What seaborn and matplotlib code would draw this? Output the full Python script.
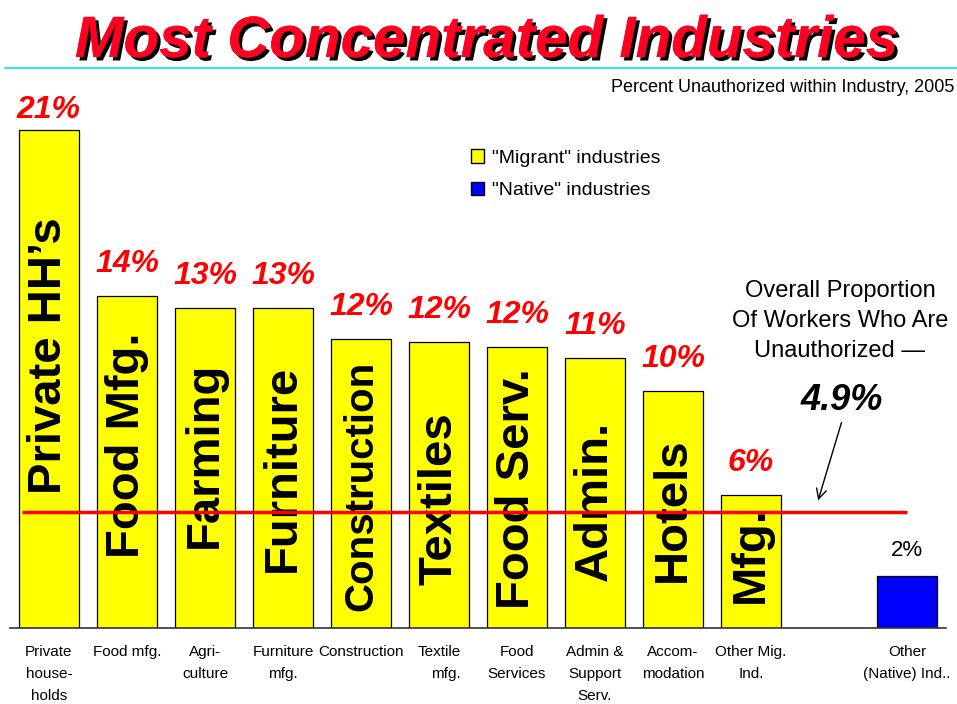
import numpy as np
import pandas as pd
import matplotlib
matplotlib.use("Agg")
import matplotlib.pyplot as plt
import matplotlib.patheffects as pe
from matplotlib.lines import Line2D
from matplotlib.patches import Patch
import seaborn as sns

# ── data ────────────────────────────────────────────────────────────────
keys = ["hh", "food", "agri", "furn", "constr", "textile",
        "foodserv", "admin", "accom", "othermig", "native"]
pct = [21.0, 14.0, 13.5, 13.5, 12.2, 12.05, 11.85, 11.4, 10.0, 5.6, 2.2]
pct_labels = ["21%", "14%", "13%", "13%", "12%", "12%", "12%", "11%", "10%", "6%", "2%"]
group = ["Migrant"] * 10 + ["Native"]
inner_labels = ["Private HH\u2019s", "Food Mfg.", "Farming", "Furniture", "Construction",
                "Textiles", "Food Serv.", "Admin.", "Hotels", "Mfg.", ""]
tick_labels = ["Private\nhouse-\nholds", "Food mfg.", "Agri-\nculture", "Furniture\nmfg.",
               "Construction", "Textile\nmfg.", "Food\nServices", "Admin &\nSupport\nServ.",
               "Accom-\nmodation", "Other Mig.\nInd.", "Other\n(Native) Ind.."]
overall = 4.9

# layout: where the rotated names sit inside the bars (data units)
inner_y = [11.5, 7.7, 7.3, 6.75, 6.0, 5.45, 5.9, 5.35, 5.0, 3.1, 0]

order = keys[:10] + ["gap"] + keys[10:]
df = pd.DataFrame({"key": keys, "pct": pct, "group": group})

sns.set_style("white")
plt.rcParams["font.family"] = ["Liberation Sans", "DejaVu Sans"]
plt.rcParams["text.color"] = "black"
plt.rcParams["xtick.color"] = "black"

fig = plt.figure(figsize=(9.57, 7.04), dpi=100)
ax = fig.add_axes([10 / 957, 76 / 704, 936 / 957, 22 * 23.7 / 704])

palette = {"Migrant": "#ffff00", "Native": "#0000ff"}
sns.barplot(data=df, x="key", y="pct", hue="group", order=order, palette=palette,
            dodge=False, width=0.77, edgecolor="black", linewidth=0.9, saturation=1,
            legend=False, ax=ax)

ax.set_xlim(-0.5, len(order) - 0.5)
ax.set_ylim(0, 22)
ax.set_xlabel("")
ax.set_ylabel("")
ax.set_yticks([])
for s in ["top", "right", "left"]:
    ax.spines[s].set_visible(False)
ax.spines["bottom"].set_color("#333333")
ax.spines["bottom"].set_linewidth(1.2)

ax.set_xticks(range(len(order)))
ax.set_xticklabels(tick_labels[:10] + [""] + tick_labels[10:], fontsize=11,
                   linespacing=1.72, color="black")
ax.tick_params(axis="x", length=0, pad=12)
ax.get_xticklabels()[5].set_multialignment("right")

px = 23.7  # pixels per percent unit

for i, k in enumerate(keys):
    xi = order.index(k)
    v = pct[i]
    if group[i] == "Migrant":
        ly = min(v + 32 / px, 21.86)
        ax.text(xi, ly, pct_labels[i], ha="center", va="center", color="red",
                fontsize=23, fontweight="bold", fontstyle="italic", clip_on=False)
        fs = 29 if k == "constr" else 34
        ax.text(xi, inner_y[i], inner_labels[i], rotation=90, ha="center", va="center",
                fontsize=fs, fontweight="bold", color="black")
    else:
        ax.text(xi, v + 25 / px, pct_labels[i], ha="center", va="center",
                fontsize=16, color="black")

# overall proportion line
ax.hlines(overall, -0.35, 11.0, color="red", lw=2.5, zorder=5)

ax.text(10.14, 12.95, "Overall Proportion\nOf Workers Who Are\nUnauthorized \u2014",
        ha="center", va="center", fontsize=17, linespacing=1.45, color="black")
ax.text(10.17, 9.62, "4.9%", ha="center", va="center", fontsize=26,
        fontweight="bold", fontstyle="italic", color="black")
ax.annotate("", xy=(9.85, 5.27), xytext=(10.17, 8.78),
            arrowprops=dict(arrowstyle="->", color="black", lw=1, mutation_scale=18))

# legend
handles = [Patch(facecolor="#ffff00", edgecolor="black", label='"Migrant" industries'),
           Patch(facecolor="#0000ff", edgecolor="black", label='"Native" industries')]
fig.legend(handles=handles, loc="upper left", bbox_to_anchor=(453 / 957, 1 - 132 / 704),
           frameon=False, fontsize=14, handlelength=0.7, handleheight=0.7,
           handletextpad=0.4, labelspacing=0.75, labelcolor="black")

# title block
fig.text(487 / 957, 1 - 57 / 704, "Most Concentrated Industries", ha="center",
         va="baseline", fontsize=42, fontweight="bold", fontstyle="italic", color="#ff0022",
         path_effects=[pe.withSimplePatchShadow(offset=(2.5, -2.5), shadow_rgbFace="black",
                                                alpha=1.0),
                       pe.Normal()])
fig.add_artist(Line2D([5 / 957, 1], [1 - 68 / 704, 1 - 68 / 704], color="#33e6e6", lw=1.5))
fig.text(954 / 957, 1 - 87 / 704, "Percent Unauthorized within Industry, 2005",
         ha="right", va="center", fontsize=13)

fig.savefig("out.png", dpi=100)
